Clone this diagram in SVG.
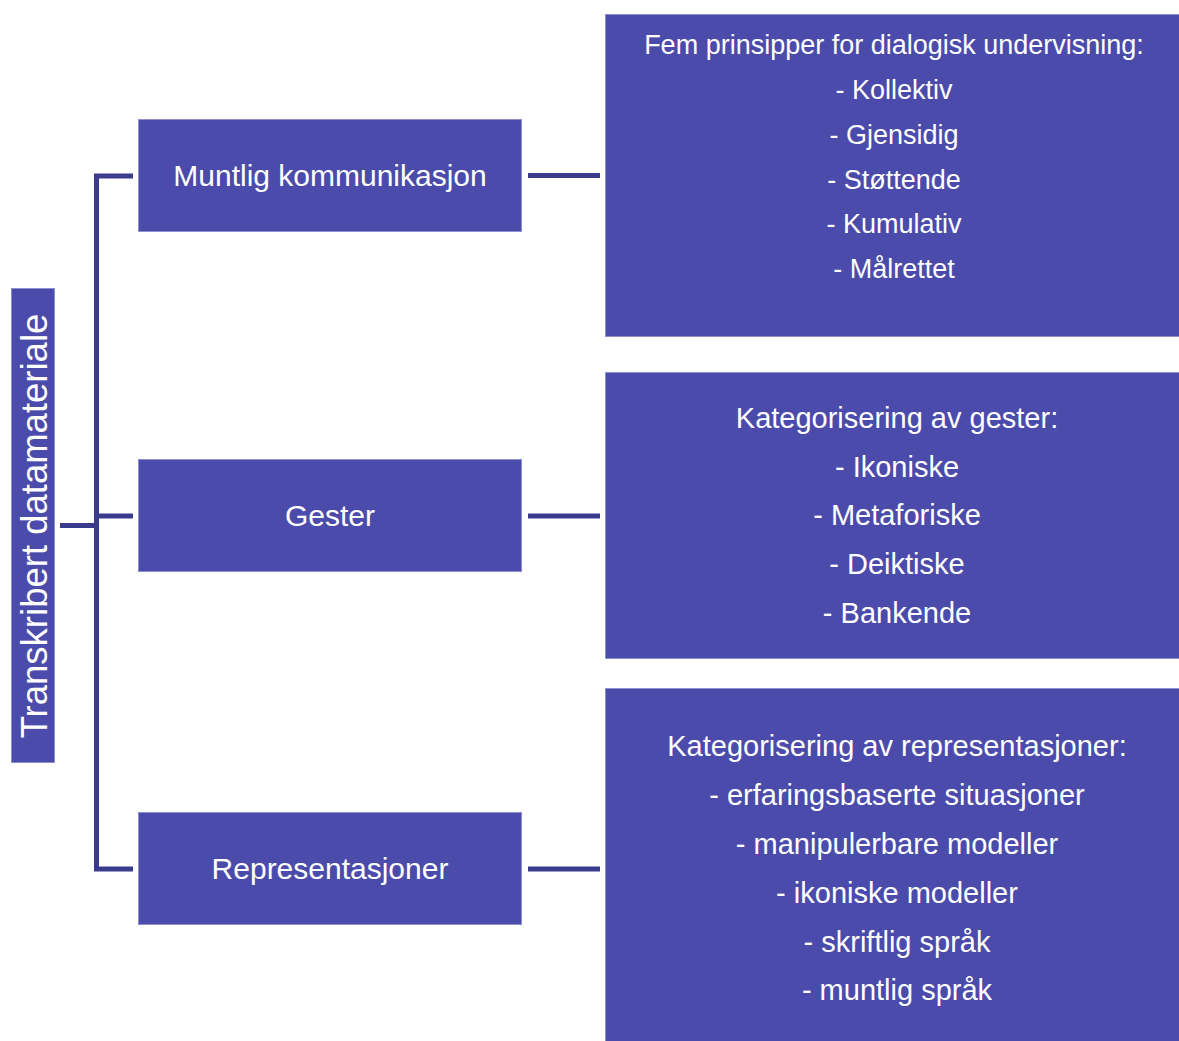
<svg xmlns="http://www.w3.org/2000/svg" width="1179" height="1041" viewBox="0 0 1179 1041">
  <style>
    .box { fill: #4B4BAB; stroke: #8E8ED0; stroke-width: 1; }
    .wire { fill: none; stroke: #3B3B8E; stroke-width: 5; }
    text { font-family: "Liberation Sans", Arial, sans-serif; fill: #FFFFFF; text-anchor: middle; dominant-baseline: central; }
    .lbl { font-size: 30px; }
    .vert { font-size: 36.5px; }
    .sm { font-size: 27px; }
    .md { font-size: 29px; }
  </style>
  <rect width="1179" height="1041" fill="#FFFFFF"/>

  <g id="connectors">
    <path class="wire" d="M60,525.5 H96.5"/>
    <path class="wire" d="M133,176 H96.5 V869 H133"/>
    <path class="wire" d="M96.5,516 H133"/>
    <path class="wire" d="M528,175.5 H600"/>
    <path class="wire" d="M528,516 H600"/>
    <path class="wire" d="M528,869 H600"/>
  </g>

  <g id="root">
    <rect class="box" x="11.5" y="288.5" width="43" height="474"/>
    <text class="vert" transform="translate(34,526) rotate(-90)">Transkribert datamateriale</text>
  </g>

  <g id="muntlig">
    <rect class="box" x="138.5" y="119.5" width="383" height="112"/>
    <text class="lbl" x="330" y="175">Muntlig kommunikasjon</text>
  </g>

  <g id="gester">
    <rect class="box" x="138.5" y="459.5" width="383" height="112"/>
    <text class="lbl" x="330" y="515">Gester</text>
  </g>

  <g id="representasjoner">
    <rect class="box" x="138.5" y="812.5" width="383" height="112"/>
    <text class="lbl" x="330" y="868">Representasjoner</text>
  </g>

  <g id="prinsipper">
    <rect class="box" x="605.5" y="14.5" width="580" height="322"/>
    <text class="sm" x="894" y="45">Fem prinsipper for dialogisk undervisning:</text>
    <text class="sm" x="894" y="90">- Kollektiv</text>
    <text class="sm" x="894" y="135">- Gjensidig</text>
    <text class="sm" x="894" y="180">- Støttende</text>
    <text class="sm" x="894" y="224">- Kumulativ</text>
    <text class="sm" x="894" y="269">- Målrettet</text>
  </g>

  <g id="gestekategorier">
    <rect class="box" x="605.5" y="372.5" width="580" height="286"/>
    <text class="md" x="897" y="418">Kategorisering av gester:</text>
    <text class="md" x="897" y="467">- Ikoniske</text>
    <text class="md" x="897" y="515">- Metaforiske</text>
    <text class="md" x="897" y="564">- Deiktiske</text>
    <text class="md" x="897" y="613">- Bankende</text>
  </g>

  <g id="representasjonskategorier">
    <rect class="box" x="605.5" y="688.5" width="580" height="360"/>
    <text class="md" x="897" y="746">Kategorisering av representasjoner:</text>
    <text class="md" x="897" y="795">- erfaringsbaserte situasjoner</text>
    <text class="md" x="897" y="844">- manipulerbare modeller</text>
    <text class="md" x="897" y="893">- ikoniske modeller</text>
    <text class="md" x="897" y="942">- skriftlig språk</text>
    <text class="md" x="897" y="990">- muntlig språk</text>
  </g>
</svg>
